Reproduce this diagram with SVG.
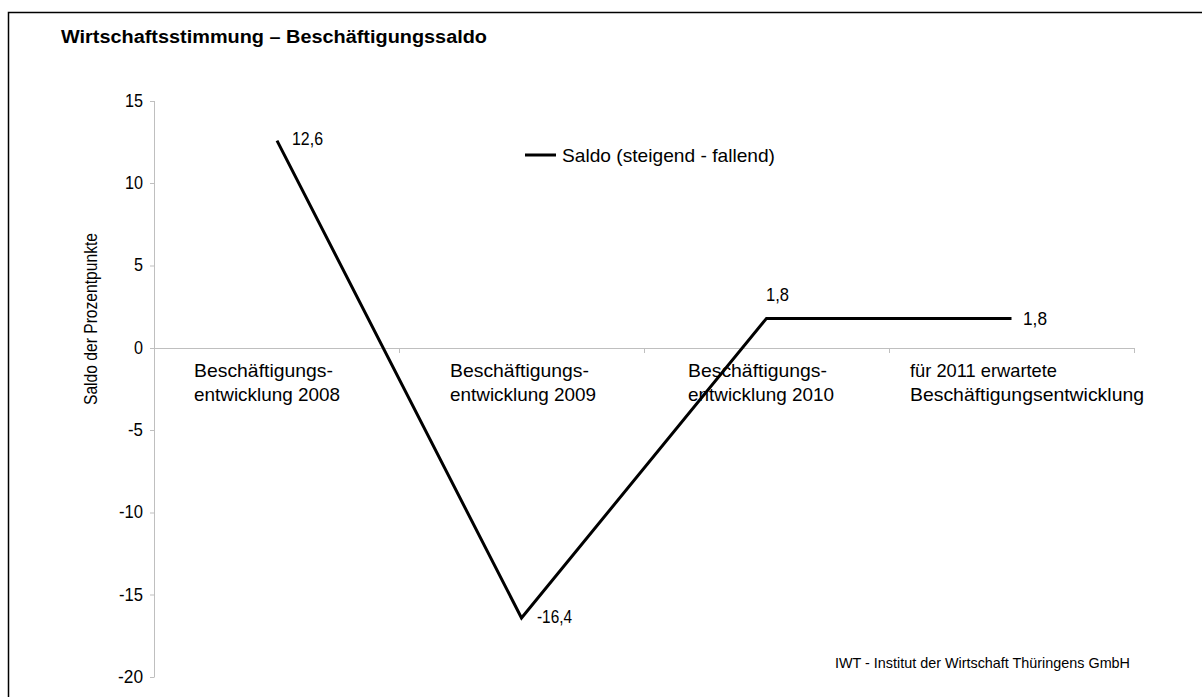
<svg xmlns="http://www.w3.org/2000/svg" width="1202" height="697" viewBox="0 0 1202 697">
<style>
text{font-family:"Liberation Sans",Arial,sans-serif;fill:#000}
.t{font-size:18px;font-weight:bold}
.ax{font-size:18px}
.tick{font-size:19px;text-anchor:end}
.lbl{font-size:19px}
.cat{font-size:18.5px}
.ft{font-size:14.5px}
.grid{stroke:#bfbfbf;stroke-width:1;fill:none}
.series{stroke:#000;stroke-width:3;fill:none;stroke-linejoin:miter}
</style>
<rect x="0" y="0" width="1202" height="697" fill="#fff"/>
<rect x="8.5" y="12.5" width="1200" height="700" fill="none" stroke="#000" stroke-width="1.5"/>
<g id="title"><text class="t" x="61" y="43" textLength="426" lengthAdjust="spacingAndGlyphs">Wirtschaftsstimmung – Beschäftigungssaldo</text></g>
<g id="y-axis">
<path class="grid" d="M154.5 101V677M150 101.5H154.5M150 183.5H154.5M150 266H154.5M150 348.5H154.5M150 430.5H154.5M150 513H154.5M150 595H154.5M150 677.5H154.5"/>
<text class="tick" x="143" y="107" textLength="18" lengthAdjust="spacingAndGlyphs">15</text>
<text class="tick" x="143" y="189" textLength="18" lengthAdjust="spacingAndGlyphs">10</text>
<text class="tick" x="143" y="271" textLength="9" lengthAdjust="spacingAndGlyphs">5</text>
<text class="tick" x="143" y="354" textLength="9" lengthAdjust="spacingAndGlyphs">0</text>
<text class="tick" x="143" y="436" textLength="15" lengthAdjust="spacingAndGlyphs">-5</text>
<text class="tick" x="143" y="518" textLength="24" lengthAdjust="spacingAndGlyphs">-10</text>
<text class="tick" x="143" y="601" textLength="24" lengthAdjust="spacingAndGlyphs">-15</text>
<text class="tick" x="143" y="683" textLength="25" lengthAdjust="spacingAndGlyphs">-20</text>
<text class="ax" transform="translate(97,319) rotate(-90)" text-anchor="middle" textLength="172" lengthAdjust="spacingAndGlyphs">Saldo der Prozentpunkte</text>
</g>
<g id="x-axis">
<path class="grid" d="M154.5 348.5H1134.5M399.5 348V353M644.5 348V353M889.5 348V353M1134.5 348V353"/>
</g>
<g id="categories">
<text class="cat" x="194" y="377" textLength="139" lengthAdjust="spacingAndGlyphs">Beschäftigungs-</text>
<text class="cat" x="194" y="401" textLength="146" lengthAdjust="spacingAndGlyphs">entwicklung 2008</text>
<text class="cat" x="450" y="377" textLength="139" lengthAdjust="spacingAndGlyphs">Beschäftigungs-</text>
<text class="cat" x="450" y="401" textLength="146" lengthAdjust="spacingAndGlyphs">entwicklung 2009</text>
<text class="cat" x="688" y="377" textLength="139" lengthAdjust="spacingAndGlyphs">Beschäftigungs-</text>
<text class="cat" x="688" y="401" textLength="146" lengthAdjust="spacingAndGlyphs">entwicklung 2010</text>
<text class="cat" x="910" y="377" textLength="147" lengthAdjust="spacingAndGlyphs">für 2011 erwartete</text>
<text class="cat" x="910" y="401" textLength="234" lengthAdjust="spacingAndGlyphs">Beschäftigungsentwicklung</text>
</g>
<g id="connectors">
<polyline class="series" points="277,140.6 521.5,618 766.5,318.4 1011.5,318.4"/>
</g>
<g id="data-labels">
<text class="lbl" x="292" y="145" textLength="31" lengthAdjust="spacingAndGlyphs">12,6</text>
<text class="lbl" x="537" y="623" textLength="35" lengthAdjust="spacingAndGlyphs">-16,4</text>
<text class="lbl" x="766" y="301" textLength="23" lengthAdjust="spacingAndGlyphs">1,8</text>
<text class="lbl" x="1023" y="325" textLength="24" lengthAdjust="spacingAndGlyphs">1,8</text>
</g>
<g id="legend">
<line x1="525" y1="155" x2="556" y2="155" stroke="#000" stroke-width="3"/>
<text class="lbl" x="562" y="162" textLength="213" lengthAdjust="spacingAndGlyphs">Saldo (steigend - fallend)</text>
</g>
<g id="footer"><text class="ft" x="835" y="668" textLength="295" lengthAdjust="spacingAndGlyphs">IWT - Institut der Wirtschaft Thüringens GmbH</text></g>
</svg>
